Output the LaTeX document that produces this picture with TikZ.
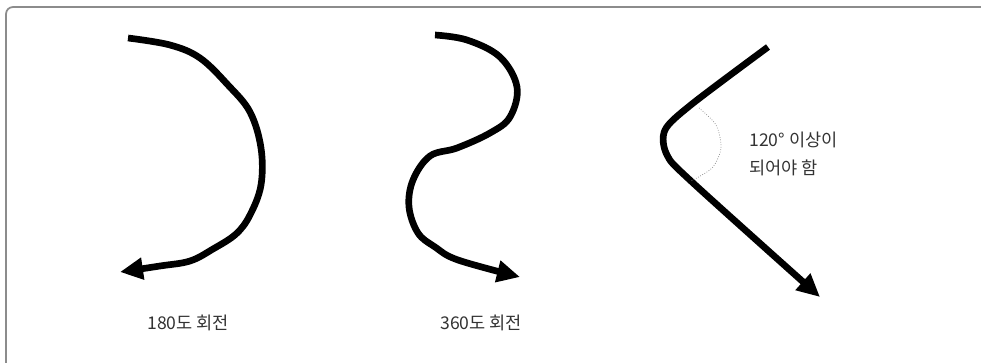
\documentclass[tikz,border=0pt]{standalone}
\usepackage{fontspec}
\setmainfont{Noto Sans CJK KR}
\usetikzlibrary{arrows.meta}

\begin{document}
\begin{tikzpicture}[x=0.02cm, y=-0.02cm]
    % Define colours
    \definecolor{frameColour}{HTML}{8C8C8C}
    \definecolor{textColour}{HTML}{333333}

    \tikzset{
        turnLine/.style={line width=3.8pt, line join=round, -{Triangle[length=0.46cm, width=0.42cm]}},
        turnLabel/.style={anchor=west, inner sep=0pt, text=textColour, font=\fontsize{10}{16}\selectfont, align=left}
    }

    % Fix the picture size
    \useasboundingbox (0,0) rectangle (981,362);

    % Draw frame (open at right and bottom)
    \draw[frameColour, line width=1pt, rounded corners=4pt] (6,370) -- (6,7) -- (990,7);

    % Draw the 180 degree turn
    \draw[turnLine] plot[smooth, tension=0.6] coordinates {(128,38) (170,45) (200,58) (228,85) (250,112) (261,148) (261,185) (250,215) (236,234) (213,249) (190,261) (160,266) (120,272)};

    % Draw the 360 degree turn
    \draw[turnLine] plot[smooth, tension=0.6] coordinates {(435,35) (467,40) (500,57) (517,87) (510,117) (490,133) (457,148) (430,156) (413,180) (409,207) (418,233) (435,247) (458,260) (520,277)};

    % Draw the sharp turn
    \coordinate (S) at (768,47);
    \coordinate (T) at (820,297);
    \draw[turnLine] plot[smooth, tension=0.5] coordinates {(S) (692,104) (665,130) (667,155) (692,182) (T)};

    % Draw the angle marker
    \draw[gray, densely dotted, thin] plot[smooth] coordinates {(699,108) (716,125) (721,148) (712,168) (691,181)};

    % Labels
    \node[turnLabel] (lblA) at (147,323) {180도 회전};
    \node[turnLabel] (lblB) at (440,323) {360도 회전};
    \node[turnLabel] (lblC) at (749,154) {120° 이상이\\되어야 함};
\end{tikzpicture}
\end{document}
